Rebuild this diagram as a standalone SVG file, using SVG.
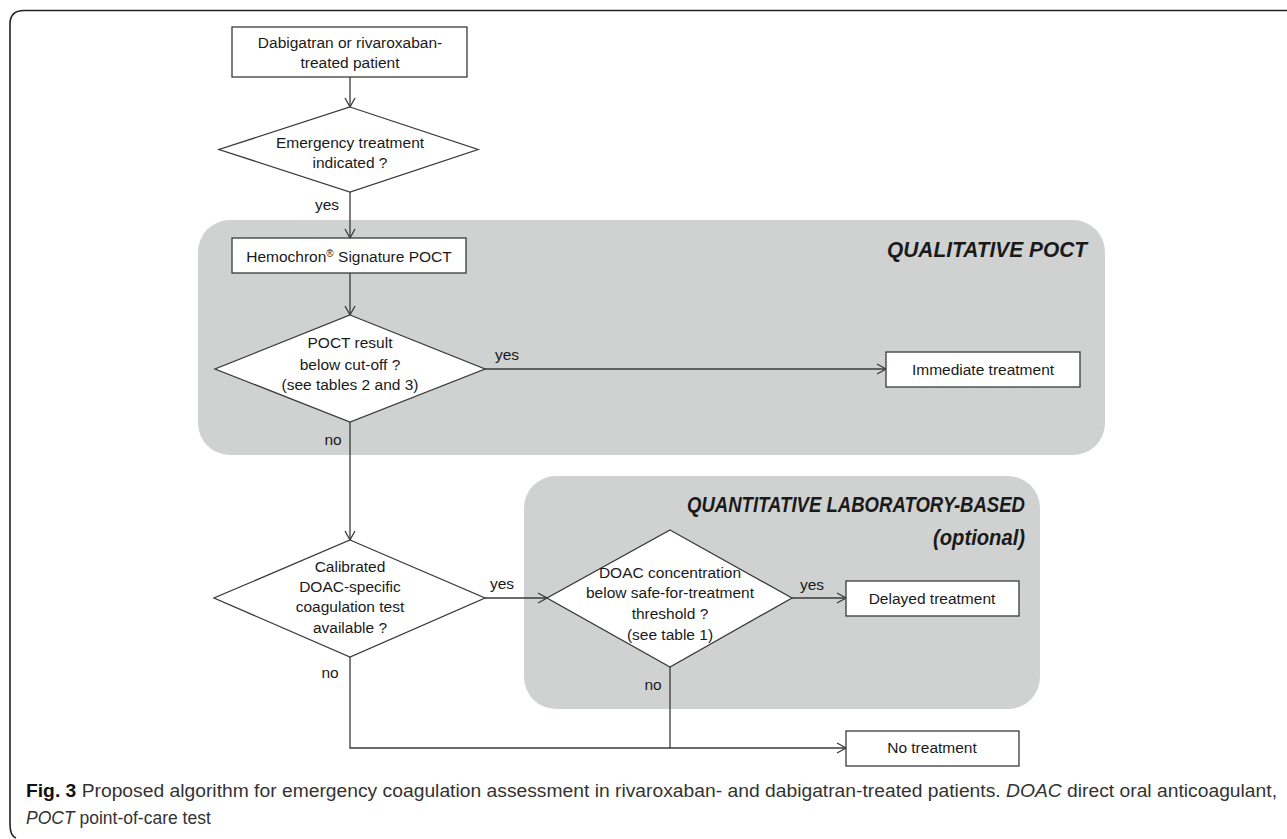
<svg xmlns="http://www.w3.org/2000/svg" width="1287" height="839" viewBox="0 0 1287 839">
<style>
.box{fill:#fff;stroke:#3a3a3a;stroke-width:1.3}
.panel{fill:#d0d2d1}
.t{font-family:"Liberation Sans",Arial,sans-serif;font-size:15.5px;fill:#1a1a1a;text-anchor:middle}
.lbl{font-family:"Liberation Sans",Arial,sans-serif;font-size:15.5px;fill:#1a1a1a;text-anchor:middle}
.head{font-family:"Liberation Sans",Arial,sans-serif;font-size:22px;font-weight:bold;font-style:italic;fill:#1a1a1a;text-anchor:end}
.cap{font-family:"Liberation Sans",Arial,sans-serif;font-size:17.5px;fill:#333}
.conn{fill:none;stroke:#3a3a3a;stroke-width:1.3}
</style>
<defs>
<marker id="arr" markerWidth="12" markerHeight="12" refX="10" refY="6" orient="auto" markerUnits="userSpaceOnUse">
<path d="M1,1 L10,6 L1,11" fill="none" stroke="#3a3a3a" stroke-width="1.3"/>
</marker>
</defs>
<rect width="1287" height="839" fill="#fff"/>
<path d="M1287,10.5 H24 Q10,10.5 10,24 V824 Q10,836 16,838" fill="none" stroke="#222" stroke-width="1.6"/>

<g id="panel-qualitative">
<rect class="panel" x="198" y="220" width="907" height="235" rx="32"/>
<text class="head" x="1087" y="257" textLength="200" lengthAdjust="spacingAndGlyphs">QUALITATIVE POCT</text>
</g>
<g id="panel-quantitative">
<rect class="panel" x="524" y="476" width="516" height="233" rx="32"/>
<text class="head" x="1025" y="512" textLength="338" lengthAdjust="spacingAndGlyphs">QUANTITATIVE LABORATORY-BASED</text>
<text class="head" x="1025" y="545" textLength="92" lengthAdjust="spacingAndGlyphs">(optional)</text>
</g>

<g id="connectors">
<path class="conn" d="M350,77 V107" marker-end="url(#arr)"/>
<path class="conn" d="M350,192 V238" marker-end="url(#arr)"/>
<path class="conn" d="M350,273 V315" marker-end="url(#arr)"/>
<path class="conn" d="M485,369 H886" marker-end="url(#arr)"/>
<path class="conn" d="M350,422 V540" marker-end="url(#arr)"/>
<path class="conn" d="M485,598 H547" marker-end="url(#arr)"/>
<path class="conn" d="M792,598 H846" marker-end="url(#arr)"/>
<path class="conn" d="M350,657 V748 H846" marker-end="url(#arr)"/>
<path class="conn" d="M670,667 V748"/>
<text class="lbl" x="327" y="210">yes</text>
<text class="lbl" x="507" y="360">yes</text>
<text class="lbl" x="333" y="445">no</text>
<text class="lbl" x="502" y="589">yes</text>
<text class="lbl" x="330" y="678">no</text>
<text class="lbl" x="812" y="590">yes</text>
<text class="lbl" x="653" y="690">no</text>
</g>

<g id="start">
<rect class="box" x="232" y="27" width="235" height="50"/>
<text class="t" x="350" y="48">Dabigatran or rivaroxaban-</text>
<text class="t" x="350" y="68">treated patient</text>
</g>
<g id="emergency">
<polygon class="box" points="350,107 478,149.5 350,192 219,149.5"/>
<text class="t" x="350" y="148">Emergency treatment</text>
<text class="t" x="350" y="168">indicated ?</text>
</g>
<g id="hemochron">
<rect class="box" x="232" y="238" width="234" height="35"/>
<text class="t" x="349" y="262">Hemochron<tspan font-size="10" dy="-5">®</tspan><tspan dy="5"> Signature POCT</tspan></text>
</g>
<g id="poct-result">
<polygon class="box" points="350,315 485,369 350,422 215,369"/>
<text class="t" x="350" y="348">POCT result</text>
<text class="t" x="350" y="370">below cut-off ?</text>
<text class="t" x="350" y="390">(see tables 2 and 3)</text>
</g>
<g id="immediate">
<rect class="box" x="886" y="352" width="194" height="35"/>
<text class="t" x="983" y="375">Immediate treatment</text>
</g>
<g id="calibrated">
<polygon class="box" points="350,540 485,598 350,657 214,598"/>
<text class="t" x="350" y="572">Calibrated</text>
<text class="t" x="350" y="592">DOAC-specific</text>
<text class="t" x="350" y="612">coagulation test</text>
<text class="t" x="350" y="633">available ?</text>
</g>
<g id="doac-conc">
<polygon class="box" points="670,530 792,598 670,667 547,598"/>
<text class="t" x="670" y="578">DOAC concentration</text>
<text class="t" x="670" y="598">below safe-for-treatment</text>
<text class="t" x="670" y="619">threshold ?</text>
<text class="t" x="670" y="640">(see table 1)</text>
</g>
<g id="delayed">
<rect class="box" x="846" y="581" width="173" height="35"/>
<text class="t" x="932" y="604">Delayed treatment</text>
</g>
<g id="no-treatment">
<rect class="box" x="846" y="731" width="173" height="35"/>
<text class="t" x="932" y="753">No treatment</text>
</g>

<g id="caption">
<text class="cap" x="26" y="797" textLength="1251" lengthAdjust="spacingAndGlyphs"><tspan font-weight="bold" fill="#111">Fig. 3</tspan> Proposed algorithm for emergency coagulation assessment in rivaroxaban- and dabigatran-treated patients. <tspan font-style="italic">DOAC</tspan> direct oral anticoagulant,</text>
<text class="cap" x="26" y="824"><tspan font-style="italic">POCT</tspan> point-of-care test</text>
</g>
</svg>
